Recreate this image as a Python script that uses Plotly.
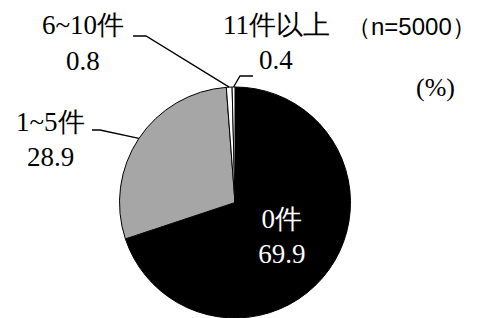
import math
import plotly.graph_objects as go

categories = ["0件", "1~5件", "6~10件", "11件以上"]
values = [69.9, 28.9, 0.8, 0.4]
colors = ["#000000", "#A6A6A6", "#FFFFFF", "#FFFFFF"]
note_n = "（n=5000）"
note_unit = "(%)"

OFF = 8  # page body margin
W, H = 483 - OFF, 318 - OFF
SERIF = "'Liberation Serif', 'Times New Roman', serif"
SANS = "'Liberation Sans', Arial, sans-serif"

# pie geometry: screen pixels -> figure fractions
pie_left, pie_right, pie_top = 119.5, 350.5, 87
dom_x = [(pie_left - OFF) / W, (pie_right - OFF) / W]
dom_y = [0.0, 1 - (pie_top - OFF) / H]
r = (dom_y[1] - dom_y[0]) * H / 2
cx = (dom_x[0] + dom_x[1]) / 2 * W + OFF
cy = H - r + OFF

texttemplate = ["%{label}<br>%{value}", "", "", ""]

fig = go.Figure(go.Pie(
    labels=categories, values=values, sort=False, direction="clockwise",
    rotation=0,
    marker=dict(colors=colors, line=dict(color="#000000", width=1)),
    texttemplate=texttemplate, textposition="inside",
    insidetextfont=dict(family=SERIF, size=27, color="#FFFFFF"),
    insidetextorientation="horizontal",
    domain=dict(x=dom_x, y=dom_y),
    showlegend=False, hoverinfo="label+value",
))

def px2paper(px, py):
    return (px - OFF) / W, 1 - (py - OFF) / H

# slice mid-point on the circumference, computed from the data
total = sum(values)
cum = 0
edge = []
for v in values:
    mid = (cum + v / 2) / total * 2 * math.pi
    edge.append((cx + r * math.sin(mid), cy - r * math.cos(mid)))
    cum += v

# outside labels: (index, label center px, value center px, leader path in px up to edge)
outside = [
    (1, (50, 122), (50, 157), [(92, 130), (100, 130)]),
    (2, (83, 25), (83, 61), [(133, 36), (146, 36)]),
    (3, (276, 25), (276, 60), [(253, 76), (240, 76)]),
]

annotations = []
shapes = []
for idx, (lx, ly), (vx, vy), path in outside:
    ax, ay = px2paper(lx, ly)
    annotations.append(dict(x=ax, y=ay, xref="paper", yref="paper", text=categories[idx],
                            showarrow=False, font=dict(family=SERIF, size=27, color="#000"),
                            xanchor="center", yanchor="middle"))
    bx, by = px2paper(vx, vy)
    annotations.append(dict(x=bx, y=by, xref="paper", yref="paper", text=f"{values[idx]}",
                            showarrow=False, font=dict(family=SERIF, size=27, color="#000"),
                            xanchor="center", yanchor="middle"))
    pts = path + [edge[idx]]
    d = "M " + " L ".join(
        f"{(p[0] - OFF) / W:.5f},{1 - (p[1] - OFF) / H:.5f}" for p in pts)
    shapes.append(dict(type="path", path=d, xref="paper", yref="paper",
                       line=dict(color="#000", width=1.3)))

nx, ny = px2paper(478, 26)
annotations.append(dict(x=nx, y=ny, xref="paper", yref="paper", text=note_n, showarrow=False,
                        font=dict(family=SANS, size=24, color="#000"), xanchor="right", yanchor="middle"))
ux, uy = px2paper(435, 87)
annotations.append(dict(x=ux, y=uy, xref="paper", yref="paper", text=note_unit, showarrow=False,
                        font=dict(family=SERIF, size=26, color="#000"), xanchor="center", yanchor="middle"))

fig.update_layout(
    width=W, height=H, margin=dict(l=0, r=0, t=0, b=0),
    paper_bgcolor="#FFFFFF", plot_bgcolor="#FFFFFF",
    font=dict(family=SERIF),
    annotations=annotations, shapes=shapes,
)

fig.write_html("out.html")
